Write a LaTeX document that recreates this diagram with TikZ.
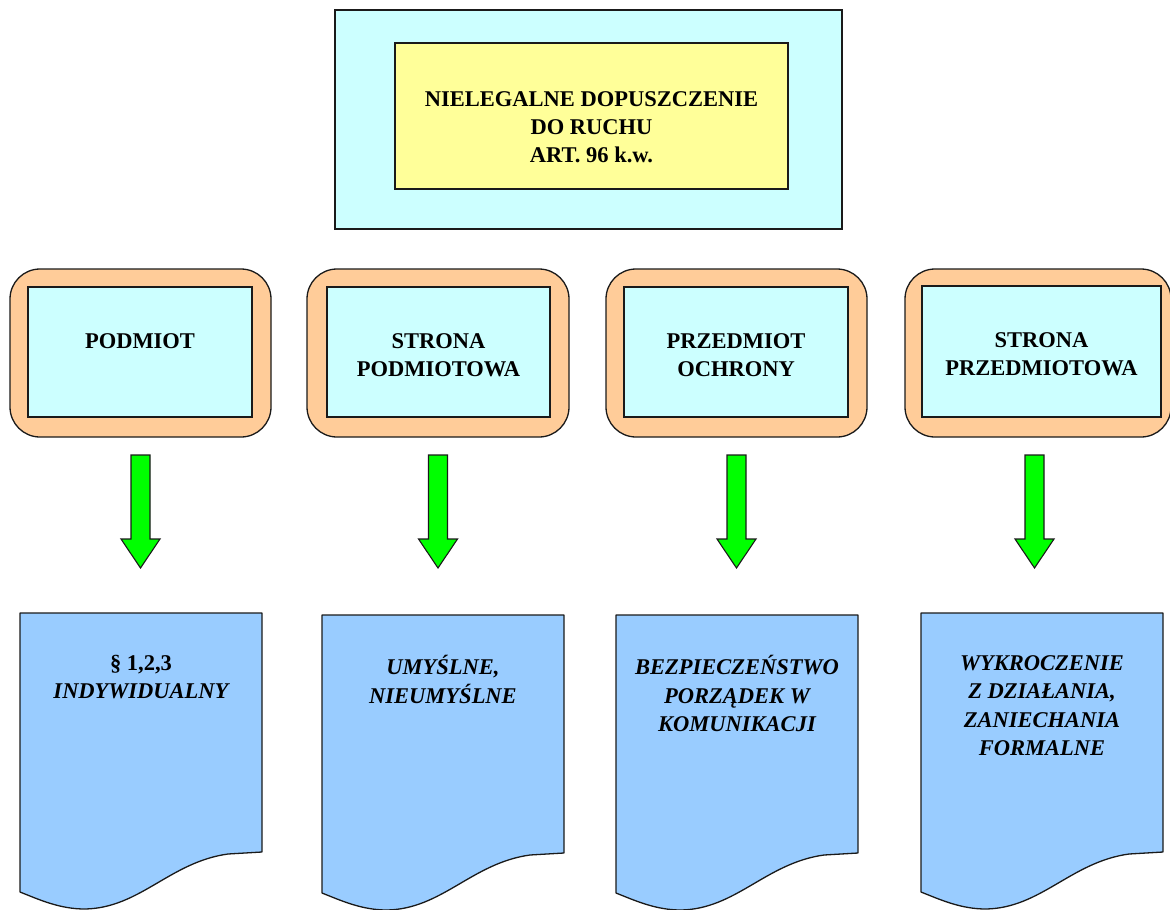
\documentclass[tikz,border=0pt]{standalone}
\usepackage{fontspec}
\setmainfont{Liberation Serif}
\usetikzlibrary{calc}
\definecolor{cyanfill}{HTML}{CCFFFF}
\definecolor{yellowfill}{HTML}{FFFF99}
\definecolor{orangefill}{HTML}{FFCC99}
\definecolor{docfill}{HTML}{99CCFF}
\definecolor{arrowfill}{HTML}{00FF00}
\definecolor{edge}{HTML}{1A1A1A}
\tikzset{
  frame/.style={draw=edge, line width=1.3pt},
  outerbox/.style={frame, fill=cyanfill, inner sep=0pt},
  titlebox/.style={frame, fill=yellowfill, inner sep=0pt},
  roundbox/.style={frame, fill=orangefill, rounded corners=30pt, inner sep=0pt},
  innerbox/.style={frame, fill=cyanfill, inner sep=0pt},
  label/.style={align=center, font=\fontsize{22.5}{28}\selectfont\bfseries, inner sep=0pt},
  doclabel/.style={align=center, font=\fontsize{22.5}{28.5}\selectfont\bfseries\itshape, inner sep=0pt, anchor=north},
  docshape/.style={frame, fill=docfill, line join=round},
  greenarrow/.style={draw=edge, line width=1.1pt, fill=arrowfill, line join=miter},
}
% document shape: #1 = left x, #2 = top y, #3 = right x, #4 = bottom-right y
\newcommand{\docpath}[4]{%
  \draw[docshape] (#1,#2) -- (#3,#2) -- (#3,#4) -- ($(#1,#4)+(208,2)$)
    .. controls ($(#1,#4)+(150,10)$) and ($(#1,#4)+(120,56)$) .. ($(#1,#4)+(65,57)$)
    .. controls ($(#1,#4)+(40,57)$) and ($(#1,#4)+(20,48)$) .. ($(#1,#4)+(0,40)$) -- cycle;}
% green block arrow at the x of a named coordinate
\newcommand{\greenarrow}[1]{%
  \path let \p1=(#1) in
    coordinate (s) at (\x1,455) coordinate (t) at (\x1,568);
  \draw[greenarrow] ($(s)+(-9.5,0)$) -- ($(s)+(9.5,0)$) -- ($(t)+(9.5,-29)$) -- ($(t)+(19.5,-29)$)
    -- (t) -- ($(t)+(-19.5,-29)$) -- ($(t)+(-9.5,-29)$) -- cycle;}
\begin{document}
\begin{tikzpicture}[x=1pt,y=-1pt]
\useasboundingbox (0,0) rectangle (1170,910);

% top title
\node[outerbox, minimum width=507pt, minimum height=219pt] (top) at (588.5,119.5) {};
\node[titlebox, minimum width=393pt, minimum height=146pt] (title) at (591.5,116) {};
\node[label, text depth=0pt] (titletext) at (591.5,127) {NIELEGALNE DOPUSZCZENIE\\DO RUCHU\\ART. 96 k.w.};

% rounded boxes
\node[roundbox, minimum width=261pt, minimum height=168pt] (o1) at (140.5,353) {};
\node[roundbox, minimum width=262pt, minimum height=168pt] (o2) at (438,353) {};
\node[roundbox, minimum width=261pt, minimum height=168pt] (o3) at (736.5,353) {};
\node[roundbox, minimum width=266pt, minimum height=168pt] (o4) at (1038,353) {};
\node[innerbox, minimum width=224pt, minimum height=130pt] (i1) at (140,352) {};
\node[innerbox, minimum width=223pt, minimum height=130pt] (i2) at (438.5,352) {};
\node[innerbox, minimum width=224pt, minimum height=130pt] (i3) at (736,352) {};
\node[innerbox, minimum width=239pt, minimum height=131pt] (i4) at (1041.5,351.5) {};
\node[label] (t1) at (140,341) {PODMIOT};
\node[label] (t2) at (438.5,355) {STRONA\\PODMIOTOWA};
\node[label] (t3) at (736,355) {PRZEDMIOT\\OCHRONY};
\node[label] (t4) at (1041.5,354) {STRONA\\PRZEDMIOTOWA};

% documents
\docpath{20}{613}{262}{852}
\docpath{322}{615}{564}{853}
\docpath{616}{615}{858}{853}
\docpath{921}{613}{1163}{852}
\node[doclabel] (d1) at (141,655) {\upshape § 1,2,3\\INDYWIDUALNY};
\node[doclabel] (d2) at (443,655) {UMYŚLNE,\\NIEUMYŚLNE};
\node[doclabel] (d3) at (737,655) {BEZPIECZEŃSTWO\\PORZĄDEK W\\KOMUNIKACJI};
\node[doclabel] (d4) at (1042,655) {WYKROCZENIE\\Z DZIAŁANIA,\\ZANIECHANIA\\FORMALNE};

% green arrows (between boxes and documents)
\coordinate (a1) at (140.5,500);
\coordinate (a2) at (438,500);
\coordinate (a3) at (736.5,500);
\coordinate (a4) at (1034.5,500);
\greenarrow{a1}
\greenarrow{a2}
\greenarrow{a3}
\greenarrow{a4}
\end{tikzpicture}
\end{document}
